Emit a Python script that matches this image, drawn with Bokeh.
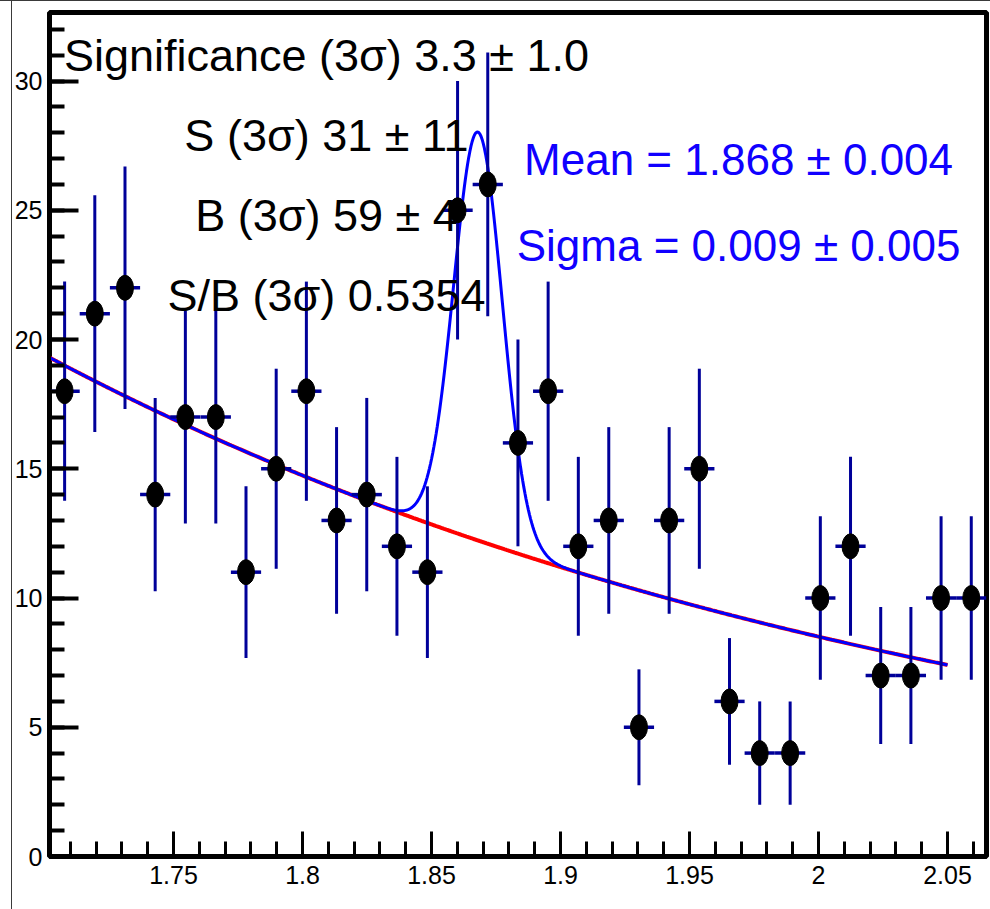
import numpy as np
from bokeh.plotting import figure
from bokeh.models import (ColumnDataSource, Label, SingleIntervalTicker,
                          CustomJSTickFormatter, Range1d)
from bokeh.embed import file_html
from bokeh.resources import INLINE

# ---------------- data ----------------
bin_centers = [1.7078, 1.7195, 1.7312, 1.7429, 1.7546, 1.7664, 1.7781, 1.7898,
               1.8015, 1.8132, 1.8249, 1.8366, 1.8484, 1.8601, 1.8718, 1.8835,
               1.8952, 1.9069, 1.9187, 1.9304, 1.9421, 1.9538, 1.9655, 1.9772,
               1.9890, 2.0007, 2.0124, 2.0241, 2.0358, 2.0475, 2.0592]
counts = [18, 21, 22, 14, 17, 17, 11, 15, 18, 13, 14, 12, 11, 25, 26, 16,
          18, 12, 13, 5, 13, 15, 6, 4, 4, 10, 12, 7, 7, 10, 10]
count_errors = [4.24, 4.58, 4.69, 3.74, 4.12, 4.12, 3.32, 3.87, 4.24, 3.61,
                3.74, 3.46, 3.32, 5.00, 5.10, 4.00, 4.24, 3.46, 3.61, 2.24,
                3.61, 3.87, 2.45, 2.00, 2.00, 3.16, 3.46, 2.65, 2.65, 3.16, 3.16]
bin_width = 0.01171

# fit model parameters (gaussian on exponential background)
fit_mean = 1.868
fit_sigma = 0.0094
fit_peak_height = 15.8
bkg_ref_x = 1.702
bkg_norm = 19.3
bkg_slope = 2.75
fit_lo, fit_hi = 1.70, 2.05

x_tick_labels = ["1.75", "1.8", "1.85", "1.9", "1.95", "2", "2.05"]

stat_lines = ["Significance (3\u03c3) 3.3 \u00b1 1.0",
              "S (3\u03c3) 31 \u00b1 11",
              "B (3\u03c3) 59 \u00b1 4",
              "S/B (3\u03c3) 0.5354"]
fit_lines = ["Mean = 1.868 \u00b1 0.004",
             "Sigma = 0.009 \u00b1 0.005"]

# ---------------- figure ----------------
FONT = "Liberation Sans"
ERR = "#000099"

p = figure(width=990, height=909, output_backend="svg", toolbar_location=None,
           x_range=Range1d(1.70194, 2.0651), y_range=Range1d(0, 32.65),
           min_border_left=49, min_border_right=4, min_border_top=12,
           min_border_bottom=53)
p.border_fill_color = None
p.background_fill_color = "white"
p.styles = {"background": "linear-gradient(#3a3a3a,#3a3a3a) 11px 0/1px 100% no-repeat, "
                          "linear-gradient(#3a3a3a,#3a3a3a) 0 0/100% 1px no-repeat, white"}
p.grid.visible = False
p.outline_line_color = "black"
p.outline_line_width = 5

# axes
p.xaxis.ticker = SingleIntervalTicker(interval=0.05, num_minor_ticks=5)
p.yaxis.ticker = SingleIntervalTicker(interval=5, num_minor_ticks=5)
p.xaxis.formatter = CustomJSTickFormatter(
    args=dict(labels=x_tick_labels),
    code="var i = Math.round((tick - 1.75) / 0.05); return (i >= 0 && i < labels.length) ? labels[i] : String(Math.round(tick*100)/100);")
for ax, tin, tmin, tw, lw in ((p.xaxis, 25, 15, 3, 4), (p.yaxis, 29, 15, 4, 3)):
    ax.major_tick_in = tin
    ax.major_tick_out = 0
    ax.minor_tick_in = tmin
    ax.minor_tick_out = 0
    ax.major_tick_line_width = tw
    ax.minor_tick_line_width = tw
    ax.axis_line_width = lw
    ax.axis_line_color = "black"
    ax.major_tick_line_color = "black"
    ax.minor_tick_line_color = "black"
    ax.major_label_text_font = FONT
    ax.major_label_text_font_size = "25px"
    ax.major_label_text_color = "black"
p.xaxis.major_label_standoff = 9
p.yaxis.major_label_standoff = 7

# ---------------- fit curves ----------------
xf = np.linspace(max(fit_lo, 1.70194), fit_hi, 800)
bkg = bkg_norm * np.exp(-bkg_slope * (xf - bkg_ref_x))
total = bkg + fit_peak_height * np.exp(-0.5 * ((xf - fit_mean) / fit_sigma) ** 2)
p.line(xf, bkg, line_color="red", line_width=4)
p.line(xf, total, line_color="#0000ff", line_width=3)

# ---------------- data points ----------------
xc = np.array(bin_centers)
yc = np.array(counts, dtype=float)
ye = np.array(count_errors)
src = ColumnDataSource(dict(x=xc, y=yc, ylo=yc - ye, yhi=yc + ye,
                            xlo=xc - bin_width / 2, xhi=xc + bin_width / 2))
p.segment(x0="x", y0="ylo", x1="x", y1="yhi", source=src, line_color=ERR, line_width=3)
p.segment(x0="xlo", y0="y", x1="xhi", y1="y", source=src, line_color=ERR, line_width=3.5)
p.ellipse(x="x", y="y", width=17, height=25, width_units="screen", height_units="screen",
          source=src, fill_color="black", line_color="black")

# ---------------- texts ----------------
stat_y = [31.0, 27.9, 24.8, 21.7]
for t, yy in zip(stat_lines, stat_y):
    p.add_layout(Label(x=1.8093, y=yy, text=t, text_align="center",
                       text_baseline="alphabetic", text_font=FONT,
                       text_font_size="45px", text_color="black"))
fit_y = [26.95, 23.65]
for t, yy in zip(fit_lines, fit_y):
    p.add_layout(Label(x=1.969, y=yy, text=t, text_align="center",
                       text_baseline="alphabetic", text_font=FONT,
                       text_font_size="44px", text_color="#1000ff"))

open("out.html", "w").write(file_html(p, INLINE))
